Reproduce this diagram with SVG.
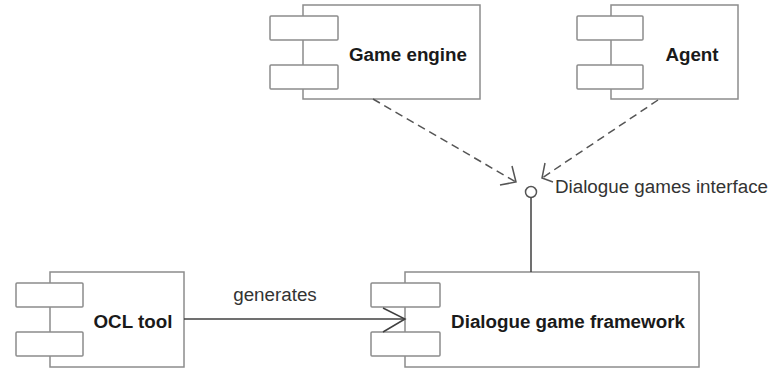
<svg xmlns="http://www.w3.org/2000/svg" width="772" height="370" viewBox="0 0 772 370">
<style>
.box{fill:#fff;stroke:#8c8c8c;stroke-width:1.5}
.port{fill:#fff;stroke:#8c8c8c;stroke-width:1.5}
.name{font-family:"Liberation Sans",Arial,sans-serif;font-weight:bold;font-size:18.8px;fill:#1a1a1a;text-anchor:middle}
.lbl{font-family:"Liberation Sans",Arial,sans-serif;font-size:18.8px;fill:#333}
.solid{fill:none;stroke:#404040;stroke-width:1.5}
.dash{fill:none;stroke:#555;stroke-width:1.5;stroke-dasharray:8 5}
.head{fill:none;stroke:#555;stroke-width:1.5}
</style>
<rect width="772" height="370" fill="#fff"/>
<g id="game-engine">
<rect class="box" x="303" y="5" width="177" height="94"/>
<rect class="port" x="270" y="16" width="68" height="24" rx="1"/>
<rect class="port" x="270" y="65" width="68" height="24" rx="1"/>
<text class="name" x="408" y="61">Game engine</text>
</g>
<g id="agent">
<rect class="box" x="611" y="5" width="127" height="94"/>
<rect class="port" x="577" y="16" width="66" height="24" rx="1"/>
<rect class="port" x="577" y="65" width="66" height="24" rx="1"/>
<text class="name" x="692" y="61">Agent</text>
</g>
<g id="ocl-tool">
<rect class="box" x="50" y="272" width="134" height="95"/>
<rect class="port" x="16" y="283" width="67" height="24" rx="1"/>
<rect class="port" x="16" y="332" width="67" height="24" rx="1"/>
<text class="name" x="133" y="328">OCL tool</text>
</g>
<g id="dialogue-game-framework">
<rect class="box" x="405" y="272" width="294" height="95"/>
<rect class="port" x="371" y="283" width="69" height="24" rx="1"/>
<rect class="port" x="371" y="332" width="69" height="24" rx="1"/>
<text class="name" x="568" y="328">Dialogue game framework</text>
</g>
<g id="interface">
<circle cx="531" cy="192" r="5.5" fill="#fff" stroke="#555" stroke-width="1.5"/>
<text class="lbl" x="555" y="193">Dialogue games interface</text>
</g>
<g id="connectors">
<line class="solid" x1="531" y1="197.5" x2="531" y2="272"/>
<line class="solid" x1="184" y1="319" x2="405" y2="319"/>
<polyline class="solid" points="383,308 405,319 383,332"/>
<text class="lbl" x="275" y="301" text-anchor="middle">generates</text>
<line class="dash" x1="373" y1="99" x2="516" y2="182"/>
<polyline class="head" points="512,166 516,182 500,185"/>
<line class="dash" x1="658" y1="100" x2="542" y2="178"/>
<polyline class="head" points="545,163 542,178 553,182"/>
</g>
</svg>
